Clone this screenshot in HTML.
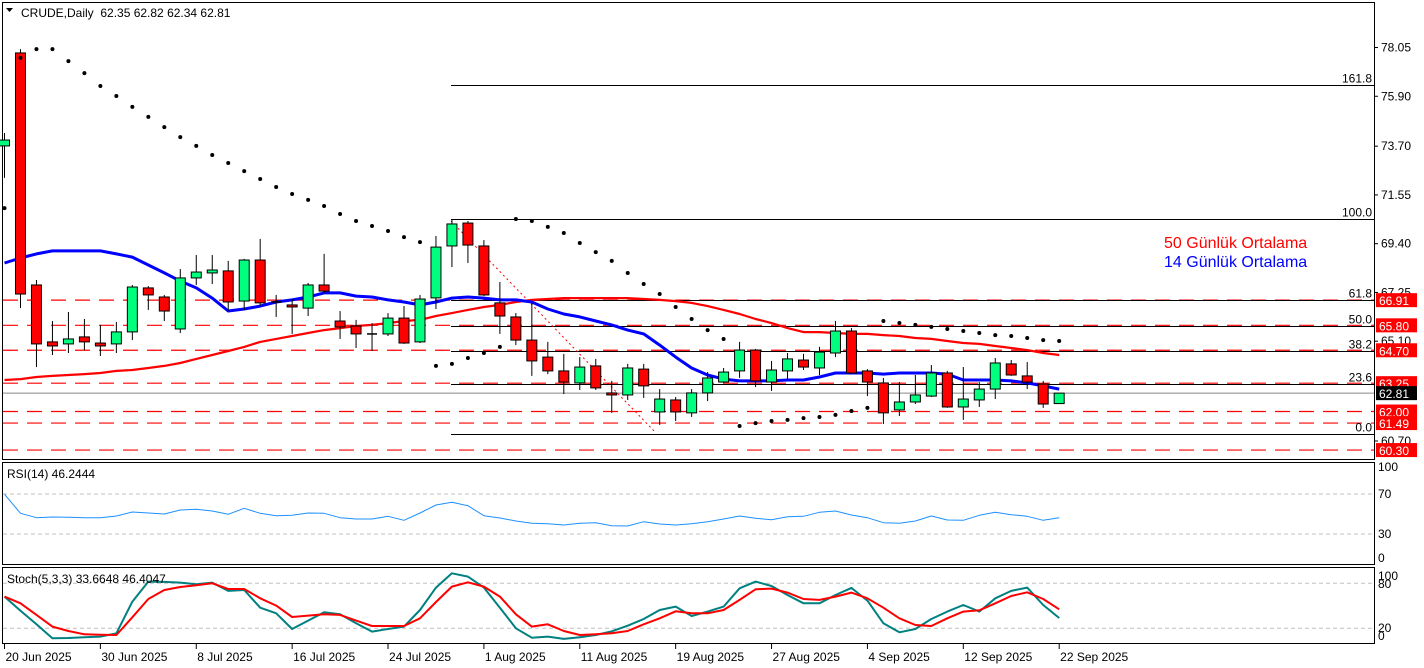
<!DOCTYPE html>
<html><head><meta charset="utf-8"><style>
html,body{margin:0;padding:0;background:#fff;}
svg{display:block;font-family:"Liberation Sans",sans-serif;}
</style></head><body>
<svg id="chart" width="1424" height="668" xmlns="http://www.w3.org/2000/svg">
<rect x="0" y="0" width="1424" height="668" fill="#fff"/>
<g id="main"></g>
<g id="rsi"></g>
<g id="stoch"></g>
<g id="axes"></g>
</svg>
<script>
const opens=[73.71,77.81,67.58,65.07,64.98,65.29,65.02,64.98,65.51,67.45,67.05,65.64,67.89,68.11,68.20,66.87,68.68,66.83,66.70,66.56,67.58,65.99,65.77,65.42,65.42,66.12,65.07,67.01,69.30,70.31,69.30,66.79,66.17,65.15,64.40,63.79,63.26,64.01,62.82,62.73,63.87,61.98,62.51,61.94,62.82,63.30,63.79,64.71,63.30,63.79,64.27,63.92,64.58,65.55,63.79,63.26,62.07,62.42,62.68,63.70,62.20,62.51,62.99,64.10,63.57,63.21,62.35];
const closes=[73.97,67.18,64.98,64.89,65.20,65.07,64.89,65.51,67.49,67.14,66.43,67.89,68.15,68.24,66.83,68.68,66.79,66.81,66.61,67.58,67.31,65.73,65.42,65.40,66.12,65.02,66.96,69.25,70.27,69.34,67.14,66.21,65.15,64.23,63.79,63.30,63.96,63.04,62.73,63.92,63.13,62.55,61.98,62.82,63.48,63.74,64.71,63.35,63.83,64.32,63.96,64.62,65.55,63.70,63.30,61.94,62.42,62.73,63.70,62.20,62.55,62.99,64.14,63.61,63.30,62.33,62.81];
const highs=[74.28,77.98,67.80,65.99,66.39,66.08,65.82,65.95,67.58,67.53,67.14,68.28,68.90,68.90,68.64,68.73,69.61,67.14,66.96,67.67,68.95,66.43,66.04,65.90,66.34,66.65,67.14,69.74,70.44,70.40,69.56,67.71,66.34,66.79,65.07,64.54,64.40,64.32,63.35,64.10,64.10,62.99,62.64,62.99,63.74,63.92,65.07,64.76,64.23,64.58,64.54,64.85,65.99,65.68,63.87,63.48,63.30,63.61,64.05,63.79,63.96,63.30,64.36,64.27,64.18,63.35,62.82];
const lows=[72.30,66.56,63.96,64.49,64.58,64.71,64.45,64.58,65.15,66.48,65.99,65.46,67.58,67.62,66.43,66.48,66.65,66.17,65.42,66.21,67.22,65.20,64.80,64.67,65.33,64.98,65.02,66.52,68.37,68.55,67.09,65.42,64.93,63.57,63.65,62.77,62.95,62.95,61.94,62.51,62.60,61.41,61.58,61.76,62.46,63.26,63.48,63.08,62.91,63.39,63.83,63.61,64.40,63.65,62.68,61.45,61.80,62.33,62.64,62.16,61.63,62.20,62.55,63.57,62.99,62.16,62.34];
const ma14=[68.55,68.77,68.95,69.08,69.08,69.08,69.08,68.95,68.81,68.46,68.11,67.75,67.45,67.00,66.43,66.52,66.65,66.83,66.92,67.05,67.23,67.23,67.09,67.05,66.92,66.83,66.70,66.83,67.00,67.05,67.00,66.92,66.92,66.83,66.52,66.30,66.17,65.99,65.82,65.59,65.42,64.93,64.40,63.92,63.61,63.43,63.35,63.35,63.35,63.39,63.39,63.52,63.70,63.70,63.70,63.65,63.70,63.70,63.70,63.65,63.39,63.39,63.39,63.35,63.26,63.13,62.99];
const ma50=[63.39,63.43,63.52,63.57,63.61,63.65,63.70,63.79,63.83,63.92,64.01,64.14,64.32,64.49,64.67,64.85,65.07,65.20,65.33,65.46,65.59,65.68,65.77,65.82,65.90,65.99,66.04,66.21,66.34,66.48,66.61,66.70,66.83,66.92,66.96,67.00,67.00,67.00,67.00,67.00,66.96,66.92,66.87,66.79,66.65,66.48,66.30,66.08,65.90,65.68,65.50,65.50,65.46,65.42,65.42,65.37,65.33,65.24,65.20,65.11,65.02,64.98,64.89,64.80,64.71,64.58,64.49];
const sar=[70.97,77.59,77.98,77.98,77.45,76.92,76.35,75.91,75.43,74.99,74.54,74.10,73.71,73.31,72.96,72.60,72.25,71.90,71.59,71.33,71.06,70.71,70.40,70.18,69.96,69.69,69.47,64.01,64.10,64.36,64.58,64.85,70.49,70.40,70.14,69.87,69.43,69.03,68.64,68.11,67.62,67.18,66.61,66.08,65.59,65.20,61.36,61.49,61.58,61.63,61.71,61.76,61.85,62.02,62.16,65.99,65.90,65.82,65.73,65.64,65.55,65.46,65.37,65.33,65.24,65.15,65.11];
const rsiVals=[69.7,50.7,46.3,47.0,46.7,46.3,46.3,48.0,52.0,51.0,50.0,54.0,54.7,53.0,49.7,55.7,50.7,48.3,48.7,51.0,50.7,46.3,45.0,45.0,47.7,43.7,51.0,59.0,61.7,58.3,48.3,46.0,43.0,40.7,40.3,39.0,40.7,41.3,38.3,38.0,42.3,40.0,39.0,40.3,42.3,45.0,48.0,45.7,44.3,47.3,47.7,51.7,53.0,49.0,46.3,41.3,40.7,43.0,48.0,44.0,43.7,48.7,51.7,49.3,47.7,43.7,46.2];
const stochK=[62.2,43.5,25.3,6.7,7.1,8.0,8.9,13.3,55.5,82.2,81.8,80.9,78.7,80.9,69.8,71.1,47.5,40.0,19.1,30.2,41.3,38.7,26.7,15.6,19.1,22.2,44.4,74.2,93.3,88.9,74.2,47.5,20.0,7.5,8.9,5.8,8.0,11.1,16.0,23.5,32.4,44.4,48.9,36.4,42.2,48.9,73.3,82.2,76.4,64.4,53.3,53.3,64.4,73.8,56.9,26.7,14.7,19.1,32.4,42.2,51.1,42.2,60.0,69.8,74.2,51.1,33.7];
const stochD=[62.2,53.3,37.8,22.2,16.4,12.0,11.5,11.1,34.7,59.1,71.1,75.1,77.3,80.0,72.4,72.4,60.0,50.2,35.1,36.9,38.7,37.8,30.2,23.1,23.1,23.1,33.3,55.1,75.6,81.3,75.6,62.2,38.7,22.2,25.3,16.4,11.1,12.0,13.3,16.4,25.3,33.3,42.7,40.0,40.0,44.4,57.8,72.0,72.9,67.6,59.1,57.8,62.2,67.6,60.0,47.5,33.3,24.4,23.1,33.3,42.2,44.0,53.3,63.1,68.0,59.1,45.3];
const priceTicks=[78.05,75.90,73.70,71.55,69.40,67.25,65.10,60.70];
const levelPrices=[66.91,65.80,64.70,63.25,62.00,61.49,60.30];
const fibLevels=["161.8","100.0","61.8","50.0","38.2","23.6","0.0"];
const fibPrices=[76.40,70.50,66.92,65.77,64.67,63.23,60.99];
const dateLabels=["20 Jun 2025","30 Jun 2025","8 Jul 2025","16 Jul 2025","24 Jul 2025","1 Aug 2025","11 Aug 2025","19 Aug 2025","27 Aug 2025","4 Sep 2025","12 Sep 2025","22 Sep 2025"];
const dateIdx=[0,6,12,18,24,30,36,42,48,54,60,66];

const NS="http://www.w3.org/2000/svg";
function mk(parent,tag,attrs,text){const e=document.createElementNS(NS,tag);for(const k in attrs)e.setAttribute(k,attrs[k]);if(text!==undefined)e.textContent=text;parent.appendChild(e);return e;}
const yP=p=>47.5+(78.05-p)*22.68;
const xC=i=>4.5+15.98*i;
const xI=xC;
const yR=v=>564-v;
const yS=v=>643.3-v*0.75;
const main=document.getElementById('main'),rsi=document.getElementById('rsi'),st=document.getElementById('stoch'),ax=document.getElementById('axes');

let b;
b=mk(main,'rect',{x:2.5,y:2.5,width:1372,height:457,fill:'none',stroke:'#000'});

b=mk(rsi,'rect',{x:2.5,y:462.5,width:1372,height:102,fill:'none',stroke:'#000'});

b=mk(st,'rect',{x:2.5,y:567.5,width:1372,height:76,fill:'none',stroke:'#000'});


levelPrices.forEach(p=>{const l=mk(main,'line',{x1:3,x2:1374,y1:yP(p),y2:yP(p),stroke:'#f00','stroke-dasharray':'15,9','stroke-width':1.2});
});
fibPrices.forEach((p,k)=>{const y=Math.round(yP(p))+0.5;const l=mk(main,'line',{x1:451,x2:1374,y1:y,y2:y,stroke:'#000'});

const t=mk(main,'text',{x:1372,y:y-3,'text-anchor':'end','font-size':12,fill:'#000'},fibLevels[k]);
});
let d=mk(main,'line',{x1:451,y1:221,x2:656,y2:433,stroke:'#f00','stroke-dasharray':'2,3'});

let cl=mk(main,'line',{x1:3,x2:1374,y1:yP(62.81),y2:yP(62.81),stroke:'#888'});


function poly(parent,vals,xf,yf,color,w,name){const pts=vals.map((v,i)=>xf(i).toFixed(1)+','+yf(v).toFixed(1)).join(' ');
const e=mk(parent,'polyline',{points:pts,fill:'none',stroke:color,'stroke-width':w,'stroke-linejoin':'round'});
return e;}
poly(main,ma50,xC,yP,'#f00',2.2,'ma50-line');
poly(main,ma14,xC,yP,'#00f',3,'ma14-line');

opens.forEach((o,i)=>{const c=closes[i],x=xC(i);const g=mk(main,'g',{});

mk(g,'line',{x1:x,x2:x,y1:yP(highs[i]),y2:yP(lows[i]),stroke:'#000'});
const top=yP(Math.max(o,c)),bot=yP(Math.min(o,c));
if(Math.abs(bot-top)<1.5){mk(g,'line',{x1:x-5,x2:x+5,y1:top,y2:top,stroke:'#000','stroke-width':1.5});}
else mk(g,'rect',{x:x-5,y:top,width:10,height:bot-top,fill:c>=o?'#00ff7f':'#f00',stroke:'#000'});});

sar.forEach((v,i)=>{const e=mk(main,'circle',{cx:xC(i),cy:yP(v),r:2,fill:'#000'});
});

let t=mk(main,'path',{d:'M6 8 L13 8 L9.5 12 Z',fill:'#000'});
t=mk(main,'text',{x:21,y:17,'font-size':12,fill:'#000'},'CRUDE,Daily  62.35 62.82 62.34 62.81');t.style.whiteSpace='pre';
t=mk(main,'text',{x:1164,y:248,'font-size':16,fill:'#f00'},'50 Günlük Ortalama');
t=mk(main,'text',{x:1164,y:267,'font-size':16,fill:'#00f'},'14 Günlük Ortalama');

priceTicks.forEach(p=>{const y=yP(p);mk(ax,'line',{x1:1374,x2:1378,y1:y,y2:y,stroke:'#000'});
const e=mk(ax,'text',{x:1381,y:y+4,'font-size':12,fill:'#000'},p.toFixed(2));});
levelPrices.concat([62.81]).forEach((p,k)=>{const y=yP(p);const blk=(k===levelPrices.length);
const r=mk(ax,'rect',{x:1376,y:y-7,width:41,height:14,fill:blk?'#000':'#f00'});
const e=mk(ax,'text',{x:1379,y:y+5,'font-size':12,fill:'#fff'},p.toFixed(2));});

[70,30].forEach(v=>mk(rsi,'line',{x1:3,x2:1374,y1:yR(v),y2:yR(v),stroke:'#c0c0c0','stroke-dasharray':'4,3'}));
poly(rsi,rsiVals,xI,yR,'#1e90ff',1,'rsi-line');
t=mk(rsi,'text',{x:7,y:478,'font-size':12,fill:'#000'},'RSI(14) 46.2444');
[[100,471],[70,498],[30,538],[0,562]].forEach(a=>{const e=mk(rsi,'text',{x:1378,y:a[1],'font-size':12,fill:'#000'},String(a[0]));});

[80,20].forEach(v=>mk(st,'line',{x1:3,x2:1374,y1:yS(v),y2:yS(v),stroke:'#c0c0c0','stroke-dasharray':'4,3'}));
poly(st,stochK,xI,yS,'#008080',2,'stoch-main-line');
poly(st,stochD,xI,yS,'#f00',2,'stoch-signal-line');
t=mk(st,'text',{x:7,y:583,'font-size':12,fill:'#000'},'Stoch(5,3,3) 33.6648 46.4047');
[[100,580],[80,588],[20,632],[0,640]].forEach(a=>{const e=mk(st,'text',{x:1378,y:a[1],'font-size':12,fill:'#000'},String(a[0]));});

dateLabels.forEach((s,k)=>{const x=xC(dateIdx[k]);mk(ax,'line',{x1:x,x2:x,y1:644,y2:649,stroke:'#000'});
const e=mk(ax,'text',{x:x+1,y:661,'font-size':12,fill:'#000'},s);});
</script>
</body></html>
